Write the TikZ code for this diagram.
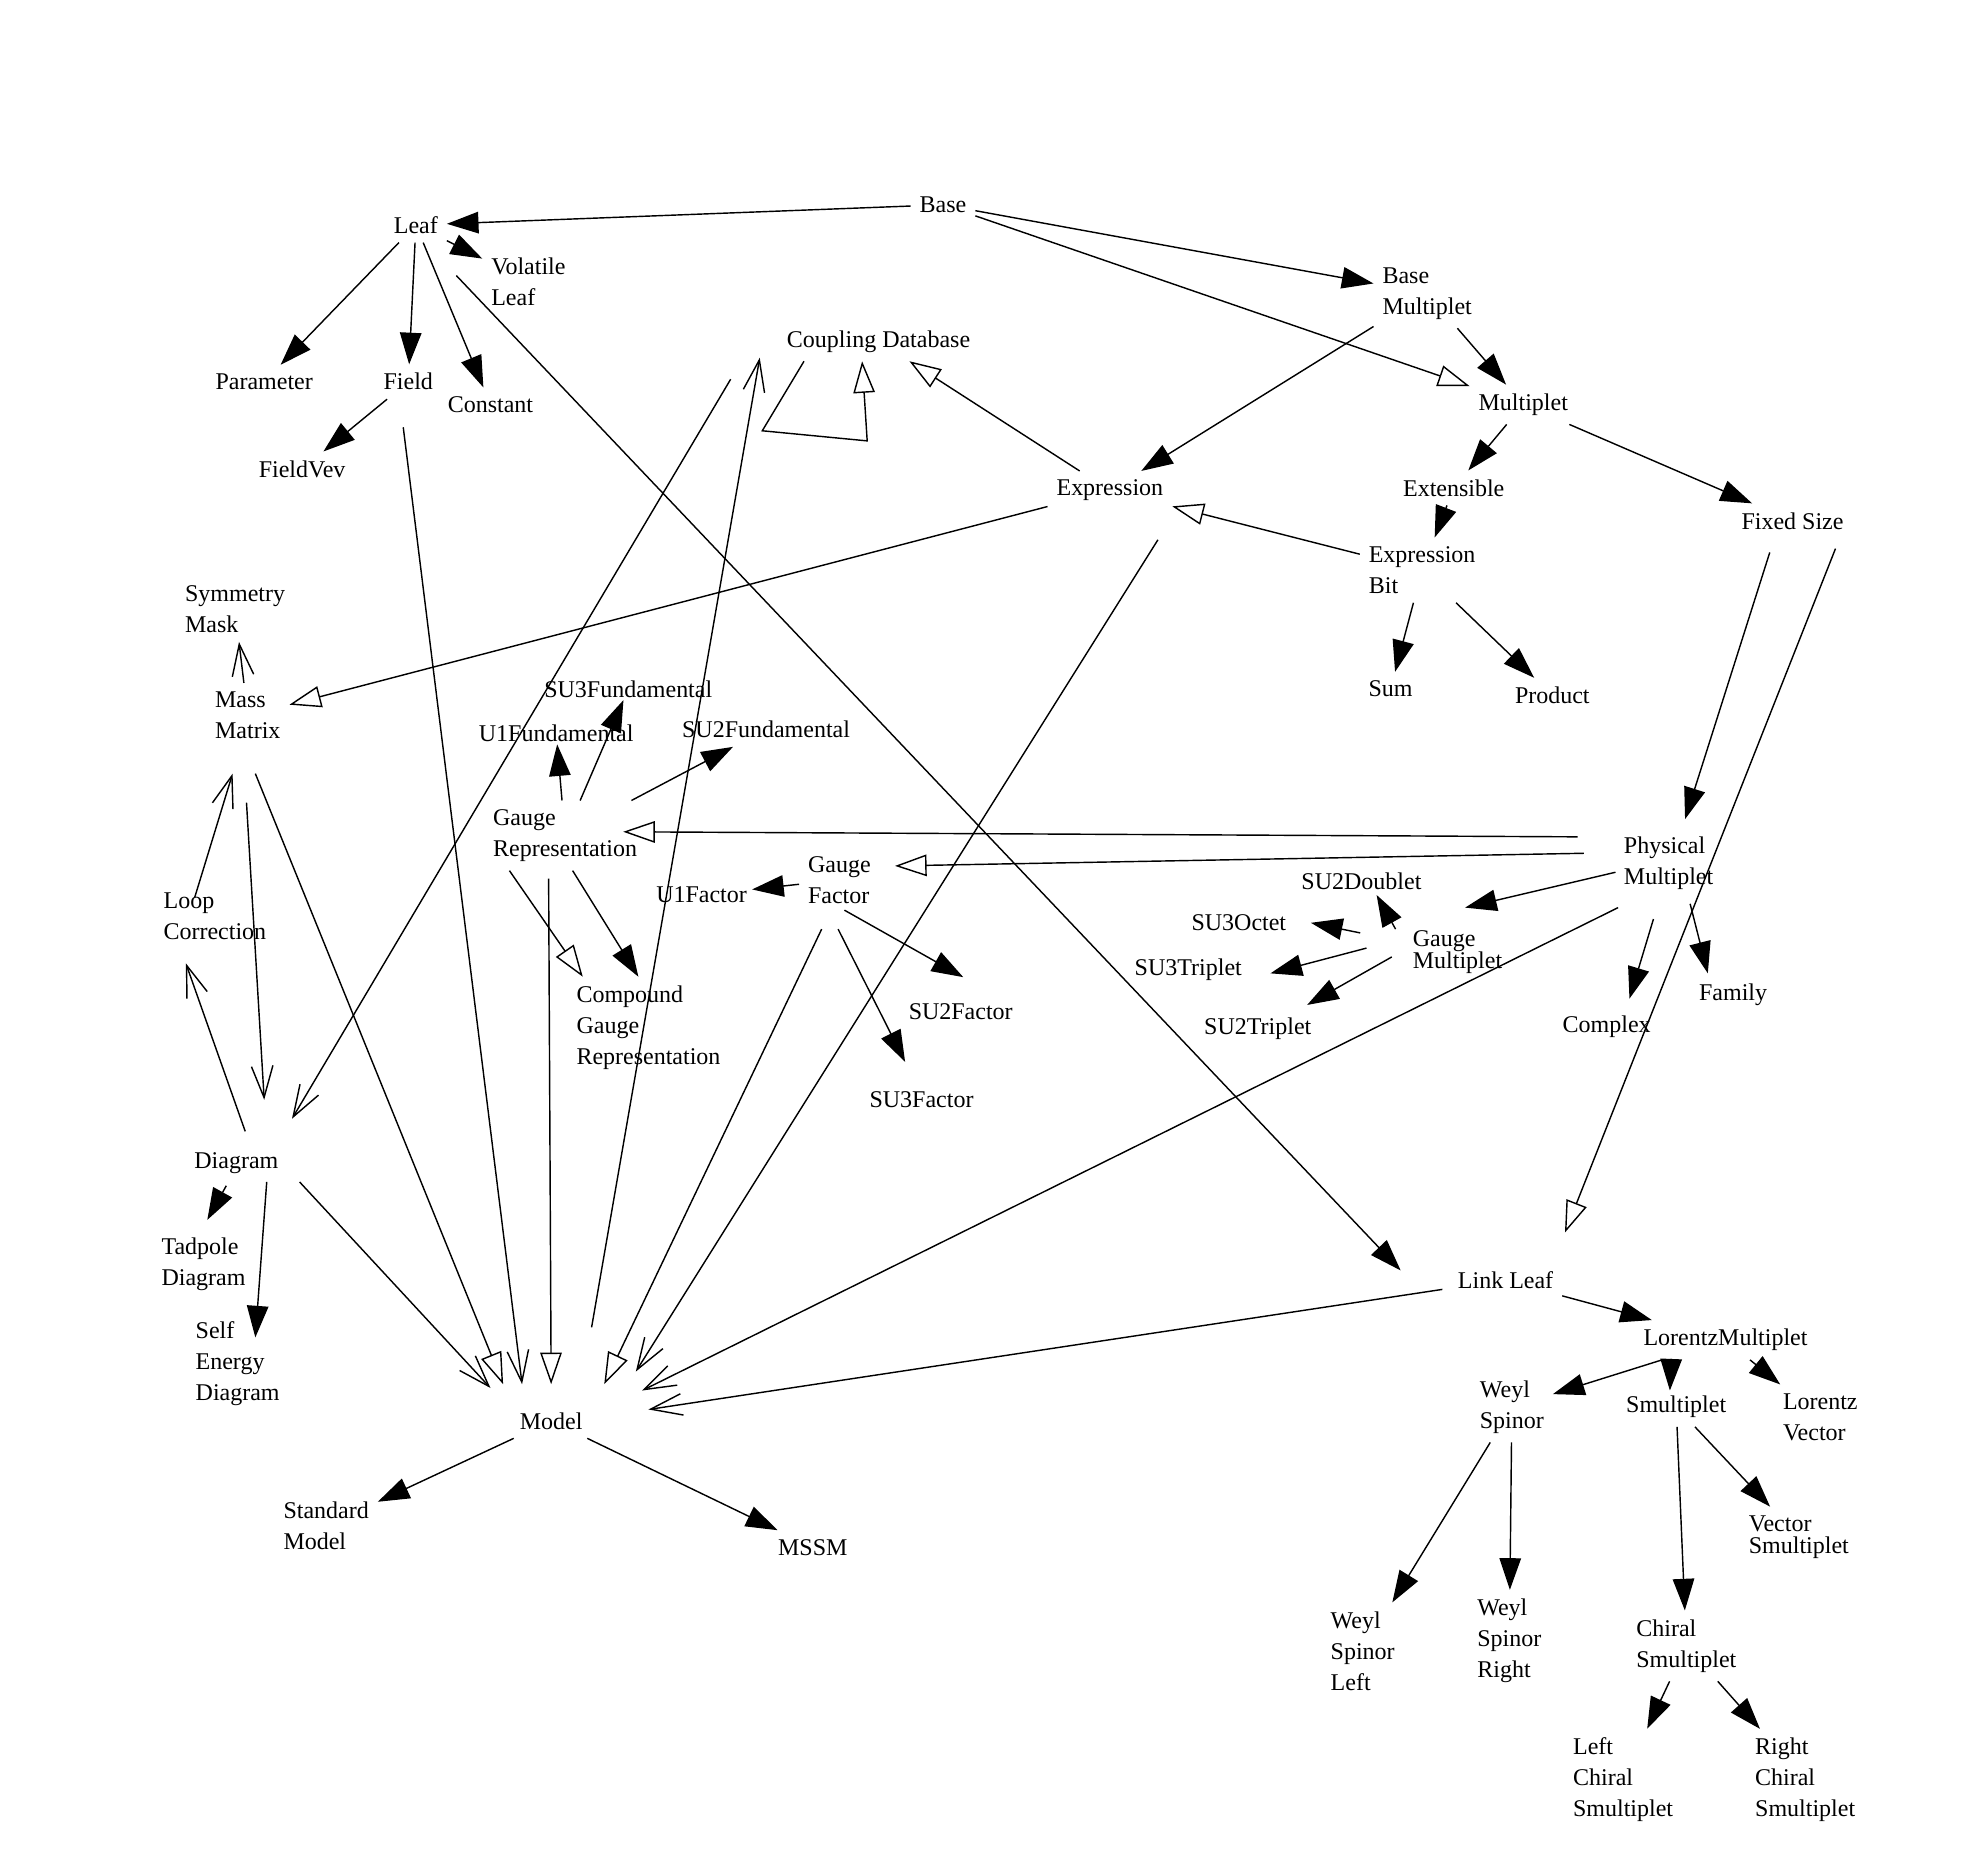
\documentclass[tikz,border=0pt]{standalone}
\usepackage{fontspec}
\setmainfont{Liberation Serif}
\usetikzlibrary{arrows.meta,calc}
\newcommand{\rp}[3]{($(#1)+(#2,#3)$)}
\begin{document}
\begin{tikzpicture}[x=0.05cm,y=-0.05cm,
  lbl/.style={font=\fontsize{27}{35}\selectfont,align=left,inner sep=0.35cm},
  ftri/.style={line width=1.6pt,-{Triangle[length=1.25cm,width=0.85cm]}},
  otri/.style={line width=1.6pt,-{Triangle[open,length=1.25cm,width=0.85cm]}},
  vee/.style={line width=1.6pt,-{Straight Barb[length=1.25cm,width=0.85cm]}}]
\useasboundingbox (0,0) rectangle (1560,1468);
\node[lbl] (base) at (746,162) {Base};
\node[lbl] (leaf) at (329,178) {Leaf};
\node[lbl] (vol) at (418,223) {Volatile\\Leaf};
\node[lbl] (par) at (209,302) {Parameter};
\node[lbl] (field) at (323,302) {Field};
\node[lbl] (const) at (388,320) {Constant};
\node[lbl] (fvev) at (239,371) {FieldVev};
\node[lbl] (cdb) at (695,270) {Coupling Database};
\node[lbl] (bmul) at (1129,232) {Base\\Multiplet};
\node[lbl] (mul) at (1205,320) {Multiplet};
\node[lbl] (expr) at (878,388) {Expression};
\node[lbl] (ext) at (1150,386) {Extensible};
\node[lbl] (fix) at (1418,412) {Fixed Size};
\node[lbl] (ebit) at (1125,451) {Expression\\Bit};
\node[lbl] (sum) at (1100,545) {Sum};
\node[lbl] (prod) at (1228,550) {Product};
\node[lbl] (sym) at (186,482) {Symmetry\\Mask};
\node[lbl] (mass) at (196,566) {Mass\\Matrix};
\node[lbl,inner sep=0.1cm] (su3f) at (497,545) {SU3Fundamental};
\node[lbl,inner sep=0.1cm] (u1f) at (440,580) {U1Fundamental};
\node[lbl] (su2f) at (606,577) {SU2Fundamental};
\node[lbl] (grep) at (447,661) {Gauge\\Representation};
\node[lbl] (phys) at (1320,683) {Physical\\Multiplet};
\node[lbl] (gfac) at (664,696) {Gauge\\Factor};
\node[lbl,inner sep=0.2cm] (u1fac) at (555,708) {U1Factor};
\node[lbl,inner sep=0.2cm] (su2d) at (1077,697) {SU2Doublet};
\node[lbl,inner sep=0.2cm] (su3o) at (980,730) {SU3Octet};
\node[lbl,inner sep=0.2cm,align=left] (gmul) at (1153,753) {Gauge\\[-10pt]Multiplet};
\node[lbl] (su3t) at (940,767) {SU3Triplet};
\node[lbl] (loop) at (170,725) {Loop\\Correction};
\node[lbl] (comp) at (513,813) {Compound\\Gauge\\Representation};
\node[lbl] (su2fac) at (760,800) {SU2Factor};
\node[lbl] (su2t) at (995,814) {SU2Triplet};
\node[lbl] (cplx) at (1271,812) {Complex};
\node[lbl] (fam) at (1371,787) {Family};
\node[lbl] (su3fac) at (729,870) {SU3Factor};
\node[lbl] (diag) at (187,920) {Diagram};
\node[lbl] (tad) at (161,1000) {Tadpole\\Diagram};
\node[lbl] (self) at (188,1079) {Self\\Energy\\Diagram};
\node[lbl] (link) at (1191,1013) {Link Leaf};
\node[lbl] (lor) at (1365,1060) {LorentzMultiplet};
\node[lbl] (weyl) at (1196,1113) {Weyl\\Spinor};
\node[lbl] (smul) at (1326,1113) {Smultiplet};
\node[lbl] (lvec) at (1440,1121) {Lorentz\\Vector};
\node[lbl] (model) at (436,1124) {Model};
\node[lbl] (sm) at (258,1207) {Standard\\Model};
\node[lbl] (mssm) at (643,1224) {MSSM};
\node[lbl] (vsm) at (1423,1216) {Vector\\[-10pt]Smultiplet};
\node[lbl] (wl) at (1078,1306) {Weyl\\Spinor\\Left};
\node[lbl] (wr) at (1194,1298) {Weyl\\Spinor\\Right};
\node[lbl] (chi) at (1334,1302) {Chiral\\Smultiplet};
\node[lbl] (lchi) at (1284,1408) {Left\\Chiral\\Smultiplet};
\node[lbl] (rchi) at (1428,1408) {Right\\Chiral\\Smultiplet};
% Base
\draw[ftri] (base) -- (leaf);
\draw[ftri] (base) -- (bmul);
\draw[otri] (base) -- (mul);
% Leaf
\draw[ftri] (leaf) -- (vol);
\draw[ftri] (leaf) -- (par);
\draw[ftri] (leaf) -- (field);
\draw[ftri] (leaf) -- (const);
\draw[ftri] \rp{leaf}{32}{40} -- \rp{link}{-83}{-8};
\draw[ftri] (field) -- (fvev);
\draw[vee] \rp{field}{-4}{36} -- \rp{model}{-23}{-29};
% Multiplets
\draw[ftri] (bmul) -- (mul);
\draw[ftri] (bmul) -- (expr);
\draw[ftri] (mul) -- (ext);
\draw[ftri] (mul) -- (fix);
\draw[ftri] (ext) -- (ebit);
\draw[otri] (ebit) -- (expr);
\draw[ftri] (ebit) -- (sum);
\draw[ftri] (ebit) -- (prod);
\draw[otri] (expr) -- (cdb);
\draw[otri] ([xshift=-2.95cm]cdb.south) -- ++(-33,55) -- ++(83,8) -- ([xshift=-0.65cm]cdb.south);
\draw[otri] (expr) -- (mass);
\draw[vee] \rp{expr}{38}{39} -- \rp{model}{67}{-39};
\draw[vee] \rp{cdb}{-117}{30} -- \rp{diag}{44}{-35};
\draw[vee] \rp{model}{32}{-74} -- \rp{cdb}{-94}{13};
\draw[ftri] \rp{fix}{-18}{25} -- \rp{phys}{13}{-35};
\draw[otri] \rp{fix}{34}{22} -- \rp{link}{47}{-38};
% Physical
\draw[otri] \rp{phys}{-72}{-21} -- \rp{grep}{46}{-3};
\draw[otri] \rp{phys}{-67}{-8} -- \rp{gfac}{44}{-11};
\draw[ftri] \rp{phys}{-42}{7} -- \rp{gmul}{6}{-35};
\draw[ftri] \rp{phys}{-12}{44} -- \rp{cplx}{18}{-22};
\draw[ftri] \rp{phys}{17}{32} -- \rp{fam}{-20}{-17};
\draw[vee] \rp{phys}{-40}{35} -- \rp{model}{72}{-24};
\draw[ftri] \rp{gmul}{-49}{-18} -- \rp{su2d}{12}{11};
\draw[ftri] \rp{gmul}{-77}{-15} -- \rp{su3o}{57}{0};
\draw[ftri] \rp{gmul}{-72}{-3} -- \rp{su3t}{65}{3};
\draw[ftri] \rp{gmul}{-52}{4} -- \rp{su2t}{39}{-19};
% Gauge rep
\draw[ftri] (grep) -- (u1f);
\draw[ftri] (grep) -- (su3f);
\draw[ftri] (grep) -- (su2f);
\draw[otri] ([xshift=-2.2cm]grep.south) -- ([xshift=-2.6cm]comp.north);
\draw[ftri] ([xshift=0.3cm]grep.south) -- ([xshift=-0.4cm]comp.north);
\draw[otri] \rp{grep}{-13}{34} -- \rp{model}{0}{-29};
\draw[ftri] (gfac) -- (u1fac);
\draw[ftri] \rp{gfac}{4}{24} -- \rp{su2fac}{2}{-27};
\draw[ftri] \rp{gfac}{-1}{39} -- \rp{su3fac}{-13}{-30};
\draw[otri] \rp{gfac}{-14}{39} -- \rp{model}{42}{-29};
% Mass / Diagram
\draw[vee] (mass) -- (sym);
\draw[vee] \rp{loop}{-16}{-15} -- \rp{mass}{-12}{46};
\draw[vee] \rp{diag}{7}{-25} -- \rp{loop}{-23}{37};
\draw[vee] \rp{mass}{-1}{69} -- \rp{diag}{22}{-50};
\draw[otri] \rp{mass}{6}{46} -- \rp{model}{-38}{-29};
\draw[ftri] \rp{diag}{-8}{18} -- \rp{tad}{3}{-35};
\draw[ftri] \rp{diag}{24}{15} -- \rp{self}{14}{-21};
\draw[vee] \rp{diag}{50}{15} -- \rp{model}{-48}{-26};
% Link leaf
\draw[vee] \rp{link}{-50}{7} -- \rp{model}{77}{-9};
\draw[ftri] (link) -- (lor);
\draw[ftri] (lor) -- (weyl);
\draw[ftri] \rp{lor}{-43}{15} -- \rp{smul}{-5}{-13};
\draw[ftri] (lor) -- (lvec);
\draw[ftri] (weyl) -- (wl);
\draw[ftri] (weyl) -- (wr);
\draw[ftri] (smul) -- (vsm);
\draw[ftri] (smul) -- (chi);
\draw[ftri] (chi) -- (lchi);
\draw[ftri] (chi) -- (rchi);
\draw[ftri] (model) -- (sm);
\draw[ftri] (model) -- (mssm);
\end{tikzpicture}
\end{document}
